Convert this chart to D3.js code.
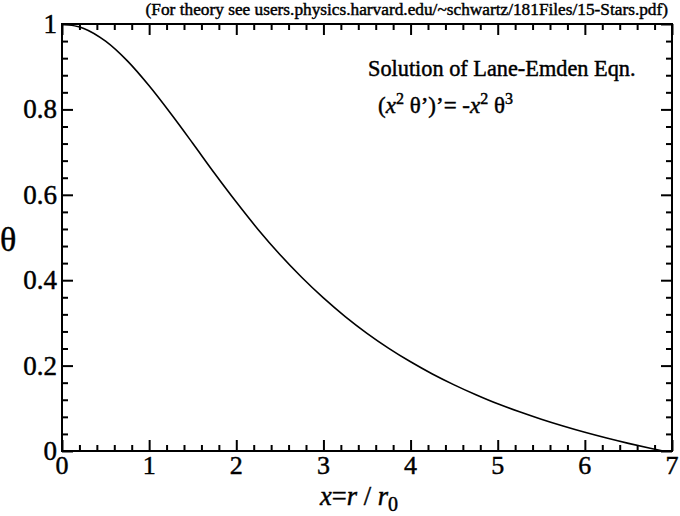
<!DOCTYPE html>
<html><head><meta charset="utf-8">
<script src="https://cdn.jsdelivr.net/npm/d3@7"></script>
<style>body{margin:0;background:#fff}</style>
</head><body><svg id="c" width="680" height="516"></svg>
<script>
const xValues = [0,0.25,0.5,0.75,1,1.25,1.5,1.75,2,2.25,2.5,2.75,3,3.25,3.5,3.75,4,4.25,4.5,4.75,5,5.25,5.5,5.75,6,6.25,6.5,6.75,6.897];
const thetaValues = [1,0.9897,0.9598,0.9136,0.8552,0.7897,0.7207,0.6504,0.5829,0.5188,0.4602,0.4069,0.3585,0.3149,0.2757,0.2405,0.2089,0.1804,0.1549,0.1317,0.1104,0.0917,0.0743,0.0584,0.0437,0.0303,0.0179,0.0064,0];
const xTickLabels = ["0","1","2","3","4","5","6","7"];
const yTickLabels = ["0","0.2","0.4","0.6","0.8","1"];
const noteText = "(For theory see users.physics.harvard.edu/~schwartz/181Files/15-Stars.pdf)";
const titleText = "Solution of Lane-Emden Eqn.";

const FF = "Liberation Serif";
const svg = d3.select("#c");
const L=62,R=672,T=24,B=451;
const x = d3.scaleLinear().domain([0,7]).range([L,R]);
const y = d3.scaleLinear().domain([0,1]).range([B,T]);

const g = svg.append("g");
const xMinor = d3.range(0,7.0001,0.2).filter(v=>Math.abs(v-Math.round(v))>1e-6);
const yMinor = d3.range(0,1.0001,0.04).filter(v=>Math.abs(v*5-Math.round(v*5))>1e-6);
const xMajor = xTickLabels.map(Number), yMajor = yTickLabels.map(Number);

function ticks(axisGen, scaleVals, size, tr){
  g.append("g").attr("transform",tr).call(axisGen.tickValues(scaleVals).tickSize(size).tickFormat(""))
   .call(s=>s.select(".domain").remove())
   .call(s=>s.selectAll("line").attr("stroke","#000").attr("stroke-width",2));
}
ticks(d3.axisTop(x), xMajor, 11, `translate(0,${B})`);
ticks(d3.axisTop(x), xMinor, 6, `translate(0,${B})`);
ticks(d3.axisBottom(x), xMajor, 11, `translate(0,${T})`);
ticks(d3.axisBottom(x), xMinor, 6, `translate(0,${T})`);
ticks(d3.axisRight(y), yMajor, 11, `translate(${L},0)`);
ticks(d3.axisRight(y), yMinor, 6, `translate(${L},0)`);
ticks(d3.axisLeft(y), yMajor, 11, `translate(${R},0)`);
ticks(d3.axisLeft(y), yMinor, 6, `translate(${R},0)`);

g.append("rect").attr("x",L).attr("y",T).attr("width",R-L).attr("height",B-T)
  .attr("fill","none").attr("stroke","#000").attr("stroke-width",2);

function txt(sel){ return sel.attr("font-family",FF).attr("fill","#000").attr("stroke","#000").attr("stroke-width",0.45); }

g.selectAll(".xl").data(xTickLabels).join("text").attr("class","xl").call(txt)
  .attr("x",d=>x(+d)).attr("y",B+23).attr("text-anchor","middle").attr("font-size",26).text(d=>d);
g.selectAll(".yl").data(yTickLabels).join("text").attr("class","yl").call(txt)
  .attr("x",L-5).attr("y",d=>y(+d)+9).attr("text-anchor","end").attr("font-size",27).text(d=>d);

const data = xValues.map((v,i)=>[v,thetaValues[i]]);
g.append("path").datum(data).attr("fill","none").attr("stroke","#000").attr("stroke-width",1.6)
  .attr("d",d3.line().x(d=>x(d[0])).y(d=>y(d[1])).curve(d3.curveMonotoneX));

svg.append("text").call(txt).attr("x",668).attr("y",15).attr("text-anchor","end").attr("font-size",17.3).text(noteText);
svg.append("text").call(txt).attr("x",368).attr("y",76).attr("font-size",22.3).text(titleText);
const eq = svg.append("text").call(txt).attr("x",378).attr("y",113).attr("font-size",23);
eq.append("tspan").text("(");
eq.append("tspan").attr("font-style","italic").text("x");
eq.append("tspan").attr("font-size",16).attr("dy",-9).text("2");
eq.append("tspan").attr("dy",9).text(" θ’)’= -");
eq.append("tspan").attr("font-style","italic").text("x");
eq.append("tspan").attr("font-size",16).attr("dy",-9).text("2");
eq.append("tspan").attr("dy",9).text(" θ");
eq.append("tspan").attr("font-size",16).attr("dy",-9).text("3");

svg.append("text").call(txt).attr("x",0).attr("y",251).attr("font-size",34).text("θ");
const xl = svg.append("text").call(txt).attr("x",320).attr("y",505).attr("font-size",26.5);
xl.append("tspan").attr("font-style","italic").text("x");
xl.append("tspan").text("=");
xl.append("tspan").attr("font-style","italic").text("r");
xl.append("tspan").text(" / ");
xl.append("tspan").attr("font-style","italic").text("r");
xl.append("tspan").attr("font-size",20).attr("dy",6).text("0");
</script></body></html>
